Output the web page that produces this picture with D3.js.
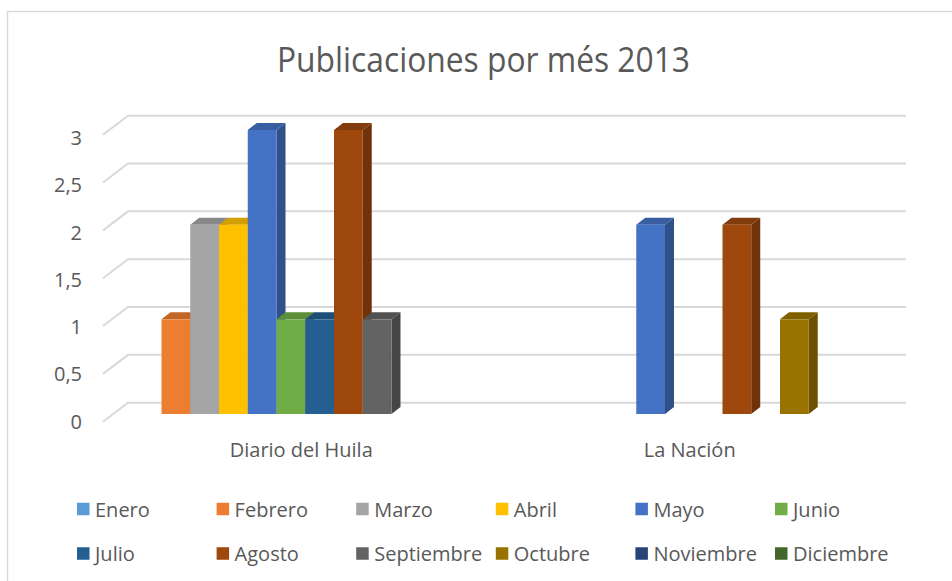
<html>
<head>
  <meta charset="utf-8">
  <title>Publicaciones por més 2013</title>
  <script src="https://d3js.org/d3.v7.min.js"></script>
  <style>
  body { margin: 0; background: #ffffff; }
  text { font-family: "Open Sans", sans-serif; fill: #595959; }
  </style>
</head>
<body>
  <div id="chart"></div>
  <script>

    // datos
    var categorias = ["Diario del Huila", "La Nación"];
    var meses = ["Enero", "Febrero", "Marzo", "Abril", "Mayo", "Junio",
                 "Julio", "Agosto", "Septiembre", "Octubre", "Noviembre", "Diciembre"];
    var valoresDiario = [0, 1, 2, 2, 3, 1, 1, 3, 1, 0, 0, 0];
    var valoresNacion = [0, 0, 0, 0, 2, 0, 0, 2, 0, 1, 0, 0];
    var colores = ["#5B9BD5", "#ED7D31", "#A5A5A5", "#FFC000", "#4472C4", "#70AD47",
                   "#255E91", "#9E480E", "#636363", "#997300", "#264478", "#43682B"];
    var ticks = [0, 0.5, 1, 1.5, 2, 2.5, 3];

    var svg = d3.select("#chart").append("svg")
      .attr("width", 952).attr("height", 581);

    // marco del grafico
    svg.append("rect")
      .attr("x", 7.5).attr("y", 11.5).attr("width", 1000).attr("height", 700)
      .attr("fill", "#fff").attr("stroke", "#d9d9d9").attr("stroke-width", 1.5);

    svg.append("text")
      .attr("x", 483.5).attr("y", 72)
      .attr("text-anchor", "middle")
      .attr("font-size", 34)
      .attr("textLength", 413).attr("lengthAdjust", "spacingAndGlyphs")
      .text("Publicaciones por més 2013");

    var locale = d3.formatLocale({decimal: ",", thousands: ".", grouping: [3], currency: ["", ""]});
    var fmt = locale.format(".1~f");

    // escalas: pared del fondo, frente de barras, etiquetas
    var yBack = d3.scaleLinear().domain([0, 3]).range([402.7, 115.7]);
    var yBar = d3.scaleLinear().domain([0, 3]).range([414, 130]);
    var yLab = d3.scaleLinear().domain([0, 3]).range([421, 137.5]);
    var depthX = 25, depthY = 19;   // profundidad del piso
    var barDx = 9, barDy = 7;       // profundidad de las barras

    var x0 = d3.scaleBand().domain(categorias).range([111, 888]);
    var x1 = d3.scaleBand().domain(meses).range([0, x0.bandwidth()]).paddingOuter(0.757);

    // lineas de division
    var grid = svg.append("g");
    ticks.forEach(function(t){
      var yb = yBack(t);
      grid.append("path")
        .attr("d", "M" + (128 - depthX) + "," + (yb + depthY) + "L128," + yb + "L906," + yb)
        .attr("fill", "none").attr("stroke", "#d9d9d9").attr("stroke-width", 2);
      svg.append("text")
        .attr("x", 82).attr("y", yLab(t))
        .attr("text-anchor", "end").attr("dominant-baseline", "central")
        .attr("font-size", 20)
        .text(fmt(t));
    });

    var series = [valoresDiario, valoresNacion];
    var bars = svg.append("g");
    categorias.forEach(function(cat, ci){
      meses.forEach(function(m, mi){
        var v = series[ci][mi];
        if (!v) return;
        var c = d3.color(colores[mi]);
        var xl = x0(cat) + x1(m), w = x1.bandwidth();
        var yt = yBar(v), yb = yBar(0);
        // lado
        bars.append("path")
          .attr("d", "M" + (xl + w) + "," + yb + "L" + (xl + w) + "," + yt +
                "L" + (xl + w + barDx) + "," + (yt - barDy) +
                "L" + (xl + w + barDx) + "," + (yb - barDy) + "Z")
          .attr("fill", c.darker(1.0));
        // tapa
        bars.append("path")
          .attr("d", "M" + xl + "," + yt + "L" + (xl + barDx) + "," + (yt - barDy) +
                "L" + (xl + w + barDx) + "," + (yt - barDy) + "L" + (xl + w) + "," + yt + "Z")
          .attr("fill", c.darker(0.55));
        // frente
        bars.append("rect")
          .attr("x", xl).attr("y", yt).attr("width", w).attr("height", yb - yt)
          .attr("fill", c);
      });
    });

    // etiquetas de categoria
    categorias.forEach(function(cat){
      svg.append("text")
        .attr("x", x0(cat) + x0.bandwidth() / 2 - 4).attr("y", 457)
        .attr("text-anchor", "middle")
        .attr("font-size", 20)
        .text(cat);
    });

    // leyenda
    var legX = d3.scaleLinear().domain([0, 5]).range([77, 775]);
    var legRows = [509, 553.5];
    meses.forEach(function(m, i){
      var col = i % 6, row = Math.floor(i / 6);
      var g = svg.append("g").attr("transform", "translate(" + legX(col) + "," + legRows[row] + ")");
      g.append("rect").attr("x", 0).attr("y", -6.25).attr("width", 12.5).attr("height", 12.5)
        .attr("fill", colores[i]);
      g.append("text").attr("x", 18).attr("y", 0)
        .attr("dominant-baseline", "central")
        .attr("font-size", 20)
        .text(m);
    });

  </script>
</body>
</html>
